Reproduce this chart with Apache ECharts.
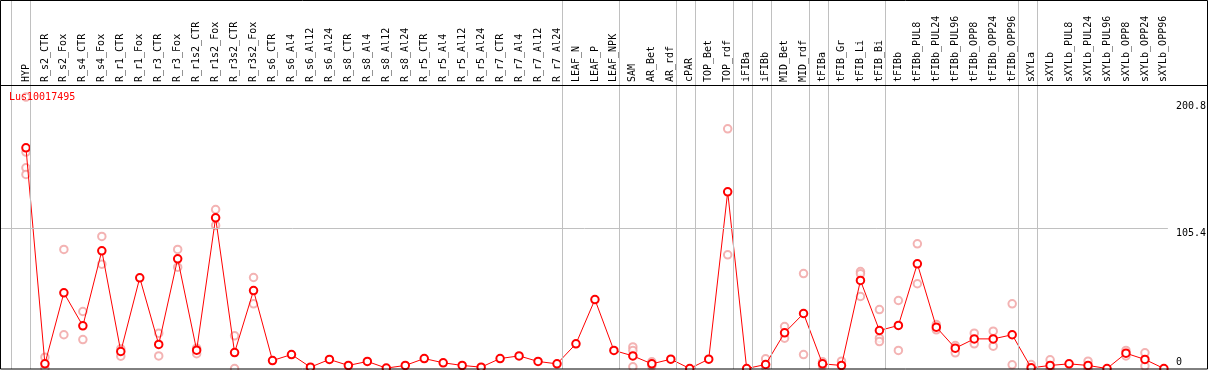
<!DOCTYPE html>
<html>
<head>
<meta charset="utf-8">
<script src="https://cdn.jsdelivr.net/npm/echarts@6/dist/echarts.min.js"></script>
<style>
html,body{margin:0;padding:0;background:#fff;}
#chart{width:1209px;height:370px;}
</style>
</head>
<body>
<div id="chart"></div>
<script>
const seriesName = 'Lus10017495';
const categories = ['HYP','R_s2_CTR','R_s2_Fox','R_s4_CTR','R_s4_Fox','R_r1_CTR','R_r1_Fox','R_r3_CTR','R_r3_Fox','R_r1s2_CTR','R_r1s2_Fox','R_r3s2_CTR','R_r3s2_Fox','R_s6_CTR','R_s6_Al4','R_s6_Al12','R_s6_Al24','R_s8_CTR','R_s8_Al4','R_s8_Al12','R_s8_Al24','R_r5_CTR','R_r5_Al4','R_r5_Al12','R_r5_Al24','R_r7_CTR','R_r7_Al4','R_r7_Al12','R_r7_Al24','LEAF_N','LEAF_P','LEAF_NPK','SAM','AR_Bet','AR_rdf','cPAR','TOP_Bet','TOP_rdf','iFIBa','iFIBb','MID_Bet','MID_rdf','tFIBa','tFIB_Gr','tFIB_Li','tFIB_Bi','tFIBb','tFIBb_PUL8','tFIBb_PUL24','tFIBb_PUL96','tFIBb_OPP8','tFIBb_OPP24','tFIBb_OPP96','sXYLa','sXYLb','sXYLb_PUL8','sXYLb_PUL24','sXYLb_PUL96','sXYLb_OPP8','sXYLb_OPP24','sXYLb_OPP96'];
const meanValues = [166.1,3.5,57.0,32.1,88.6,12.8,68.3,18.1,82.6,13.8,113.4,12.0,58.7,6.0,10.5,1.0,6.8,2.3,5.3,0.3,2.3,7.5,4.3,2.3,1.0,7.5,9.5,5.3,3.5,18.6,51.9,13.6,9.5,3.5,7.0,0,7.0,133.0,0,3.0,26.9,41.4,3.5,2.3,66.3,28.6,32.4,78.8,31.1,15.3,22.3,22.3,25.4,0.5,2.3,3.5,2.3,0,11.5,6.8,0];
const replicateValues = [
  [204.3,162.9,151.1,146.1],[8.5,0],[89.6,25.4],[42.9,21.8],[99.4,78.5],[14.8,9.3],[],[26.6,9.5],[89.6,76.3],[15.3,11.1],
  [119.7,107.7],[24.6,0],[68.5,48.7],[],[],[],[],[],[],[],
  [],[],[],[],[],[],[],[],[],[],
  [],[],[16.2,13.6,1.3],[5.0,2.0],[],[],[],[180.4,85.6],[],[7.3,1.0],
  [31.6,22.8],[71.5,10.5],[5.0,2.0],[5.5],[73.0,71.3,54.2],[44.4,22.8,20.3],[51.2,13.6],[93.9,63.8],[33.1,29.1],[17.3,11.8],
  [26.6,18.6],[28.1,16.8],[48.7,2.8],[3.0],[6.5,0],[],[5.5,0],[],[13.6,9.5],[11.8,1.8],
  []
];
const yTickValues = [0, 105.4, 200.8];
const gridLineValues = [105.4];
const separatorAfter = [-1,0,28,31,34,35,37,38,39,41,42,45,52,53,60];

const FONT = 'DejaVu Sans Mono';
const meanData = meanValues.map((v, i) => [i, v]);
const repData = [];
replicateValues.forEach((arr, i) => arr.forEach(v => repData.push([i, v])));

const xMin = -25 / 19;
const xMax = xMin + 1169 / 19;

const chart = echarts.init(document.getElementById('chart'), null, {renderer: 'canvas'});
chart.setOption({
  animation: false,
  backgroundColor: '#fff',
  textStyle: {fontFamily: FONT},
  title: {
    text: seriesName, left: 4, top: 87,
    textStyle: {color: '#ff0000', fontSize: 10, fontWeight: 'normal', fontFamily: FONT}
  },
  grid: [
    {left: 1, right: 39, top: 86, bottom: 1.5},
    {left: 1, right: 39, top: 0, bottom: 1}
  ],
  xAxis: [
    {
      type: 'value', gridIndex: 0, position: 'top', min: xMin, max: xMax,
      axisLine: {show: false}, axisTick: {show: false}, splitLine: {show: false},
      axisLabel: {
        customValues: categories.map((c, i) => i),
        formatter: v => categories[Math.round(v)],
        rotate: 90, margin: 4, fontSize: 10, color: '#000', fontFamily: FONT
      }
    },
    {type: 'value', gridIndex: 1, min: xMin, max: xMax, show: false}
  ],
  yAxis: [
    {
      type: 'value', gridIndex: 0, position: 'right', min: 0, max: 212.67,
      axisLine: {show: false}, axisTick: {show: false}, splitLine: {show: false},
      axisLabel: {
        customValues: yTickValues, margin: 8, fontSize: 10, color: '#000', fontFamily: FONT,
        formatter: v => v === 0 ? '{b|0}' : '{t|' + v + '}',
        rich: {
          t: {padding: [10, 0, 0, 0], fontSize: 10, fontFamily: FONT, color: '#000'},
          b: {padding: [0, 0, 12, 0], fontSize: 10, fontFamily: FONT, color: '#000'}
        }
      }
    },
    {type: 'value', gridIndex: 1, min: 0, max: 1, show: false}
  ],
  graphic: [
    {type: 'rect', shape: {x: 0.5, y: 0.5, width: 1207, height: 368.5}, style: {fill: 'none', stroke: '#000', lineWidth: 1}, z: 100, silent: true},
    {type: 'line', shape: {x1: 0, y1: 85.5, x2: 1208, y2: 85.5}, style: {stroke: '#000', lineWidth: 1}, z: 100, silent: true}
  ],
  series: [
    {
      type: 'line', xAxisIndex: 1, yAxisIndex: 1, data: [], silent: true,
      markLine: {
        silent: true, symbol: 'none', animation: false, label: {show: false},
        lineStyle: {color: '#c0c0c0', width: 1, type: 'solid'},
        data: separatorAfter.map(i => ({xAxis: i + 4.5 / 19}))
      }
    },
    {
      type: 'scatter', xAxisIndex: 0, yAxisIndex: 0, data: repData,
      symbol: 'emptyCircle', symbolSize: 7.5, z: 2,
      itemStyle: {color: '#f0a0a0', borderWidth: 1.3},
      markLine: {
        silent: true, symbol: 'none', animation: false, label: {show: false},
        lineStyle: {color: '#c0c0c0', width: 1, type: 'solid'},
        data: gridLineValues.map(v => ({yAxis: v}))
      }
    },
    {
      type: 'line', name: seriesName, xAxisIndex: 0, yAxisIndex: 0, data: meanData,
      symbol: 'emptyCircle', symbolSize: 7.5, z: 3,
      lineStyle: {color: '#ff0000', width: 1},
      itemStyle: {color: '#ff0000', borderWidth: 1.5}
    }
  ]
});
</script>
</body>
</html>
